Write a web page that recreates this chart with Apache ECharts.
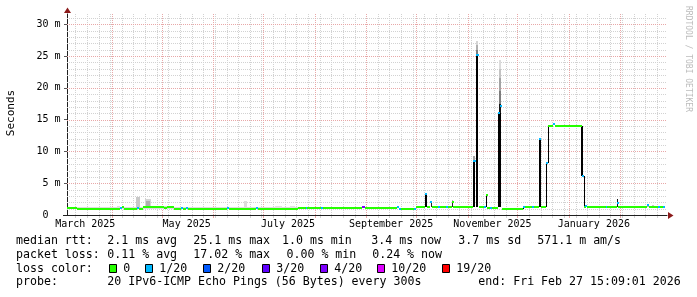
<!DOCTYPE html>
<html><head><meta charset="utf-8">
<script src="https://cdn.jsdelivr.net/npm/echarts@6.0.0/dist/echarts.min.js"></script>
<style>html,body{margin:0;padding:0;background:#fff}#c{width:697px;height:297px}</style>
</head><body><div id="c"></div>
<script>
// ---------------- data ----------------
// x values are days since 2025-03-01 (UTC)
const DAY0 = '2025-03-01';
const axisStart = '2025-03-05';
const axisEnd = '2026-03-01';
const dataEndDay = 363.63; // Fri Feb 27 15:09 2026

const monthStarts = ['2025-04-01','2025-05-01','2025-06-01','2025-07-01','2025-08-01','2025-09-01',
  '2025-10-01','2025-11-01','2025-12-01','2026-01-01','2026-02-01'];
const firstMonday = '2025-03-10';
const monthLabelDates = ['2025-03-16','2025-05-16','2025-07-16','2025-09-16','2025-11-16','2026-01-16'];
const monthLabels = ['March 2025','May 2025','July 2025','September 2025','November 2025','January 2026'];

const yMaxMs = 31.62;
const yLabelValues = [0, 5, 10, 15, 20, 25, 30];
const yLabelTexts = ['0  ', '5 m', '10 m', '15 m', '20 m', '25 m', '30 m'];

// median rtt (ms): step function, each value holds from its day to the next day
const medDay = [4.0,10.0,35.6,36.8,38.3,46.1,47.3,49.7,62.4,64.2,68.3,72.6,73.8,75.6,76.8,100.3,101.5,117.7,118.9,
  143.0,147.5,148.7,156.8,158.0,181.5,183.0,202.6,203.8,205.0,212.5,213.7,219.4,220.6,222.7,223.9,227.2,228.4,
  232.0,233.5,235.6,236.5,248.3,250.1,251.6,254.8,255.9,256.9,258.4,259.6,263.6,264.6,265.7,278.6,279.8,283.8,
  285.0,287.7,289.0,292.4,293.6,296.7,297.9,313.7,315.1,315.7,316.9,328.0,329.2,334.7,335.8,352.7,353.9,359.6,
  360.8,362.6];
const medMs = [1.1,1.02,1.05,1.2,1.02,1.05,1.02,1.25,1.1,1.25,1.02,1.1,1.02,1.05,1.02,1.1,1.02,1.05,1.02,
  1.15,1.15,1.15,1.15,1.15,1.2,1.15,1.2,0.95,0.95,0.95,1.3,3.3,1.3,2.1,1.3,1.3,1.3,
  1.3,1.3,2.0,1.2,8.5,25.1,1.2,1.2,3.2,1.15,1.15,1.15,16.0,17.1,0.95,1.2,1.2,1.2,
  1.2,12.0,1.2,8.2,14.0,14.3,14.0,6.1,1.2,1.4,1.25,1.25,1.25,1.85,1.2,1.6,1.2,1.2,
  1.2,1.2];
// loss class index into lossLabels
const medLoss = [0,0,1,0,0,1,0,0,0,0,0,1,0,1,0,1,0,1,0,
  0,1,0,1,0,4,0,1,1,0,1,0,1,0,1,0,1,0,
  1,0,0,0,1,1,0,1,0,0,1,0,1,1,0,1,0,1,
  0,1,0,1,0,1,0,1,0,1,0,1,0,1,0,1,0,1,
  0,1];

// smoke (spread of the 20 pings): from day, to day, low ms, high ms, density 0..1
const smokeFrom = [4.0,33.8,45.8,50.9,51.8,59.4,110.5,129.1,138.2,219.5,222.8,235.6,235.6,248.5,248.5,
  250.2,250.2,250.2,250.2,255.9,263.6,264.2,264.2,264.2,264.2,264.2,278.1,287.8,292.4,293.4,313.4,315.1,
  334.7,352.7,355.7];
const smokeTo = [143.0,35.6,48.2,54.5,53.9,68.4,112.0,133.4,141.2,220.5,223.6,236.5,236.5,249.7,249.7,
  251.4,251.4,251.4,251.4,256.9,265.4,265.4,265.4,265.4,265.4,265.4,278.7,289.0,293.1,294.1,314.2,315.7,
  335.8,353.9,356.9];
const smokeLo = [1.0,1.1,1.1,1.2,1.4,1.1,1.1,1.1,1.1,1.2,1.2,1.2,2.1,1.2,8.6,
  1.2,25.2,26.0,26.7,1.2,1.2,16.0,17.5,19.5,21.5,23.0,0.95,1.2,1.2,8.2,6.1,1.2,
  1.2,1.2,1.2];
const smokeHi = [1.3,1.4,2.9,2.5,2.2,1.45,2.2,1.4,1.45,3.4,2.2,2.1,2.4,8.6,9.3,
  25.2,26.0,26.7,27.3,3.3,16.0,17.5,19.5,21.5,23.0,24.4,1.25,12.1,8.2,14.0,14.0,6.1,
  2.5,1.7,1.6];
const smokeDensity = [0.12,0.12,0.2,0.15,0.3,0.15,0.12,0.1,0.1,1.0,0.85,0.85,0.3,1.0,0.35,
  1.0,0.5,0.3,0.15,1.0,1.0,0.9,0.5,0.35,0.22,0.12,1.0,1.0,1.0,1.0,1.0,1.0,
  0.9,0.3,0.2];

const lossLabels = ['0','1/20','2/20','3/20','4/20','10/20','19/20'];

const rttTitle = 'median rtt:';
const rttStats = ['2.1 ms avg','25.1 ms max','1.0 ms min','3.4 ms now','3.7 ms sd','571.1 m am/s'];
const lossTitle = 'packet loss:';
const lossStats = ['0.11 % avg','17.02 % max','0.00 % min','0.24 % now'];
const colorTitle = 'loss color:';
const probeTitle = 'probe:';
const probeText = '20 IPv6-ICMP Echo Pings (56 Bytes) every 300s';
const endText = 'end: Fri Feb 27 15:09:01 2026';
const yTitle = 'Seconds';
const watermark = 'RRDTOOL / TOBI OETIKER';

// ---------------- styles / layout ----------------
const lossColors = ['#26ff00','#00b8ff','#0059ff','#5e00ff','#7e00ff','#dd00ff','#ff0000'];
const MONO = '"DejaVu Sans Mono", monospace';
const minorGridColor = '#d2d2d2';
const majorGridColor = '#e8a8a8';
const rttX = [107.3,193.3,282.0,371.3,458.3,537.3];
const lossX = [107.3,193.3,286.5,372.2];
const boxX = [109,145,203,262,320,377,442];
const lineY = [240.8,254.9,268.6,282.4];

// ---------------- build ----------------
const T0 = Date.UTC(2025,2,1);
function dayOf(s){ const p = s.split('-').map(Number); return (Date.UTC(p[0],p[1]-1,p[2]) - T0)/86400000; }
const xMin = dayOf(axisStart), xMax = dayOf(axisEnd);
const monthDays = monthStarts.map(dayOf);
const weekDays = [];
for (let d = dayOf(firstMonday); d < xMax; d += 7) weekDays.push(d);
const labelDays = monthLabelDates.map(dayOf);
const labelMap = {}; labelDays.forEach((d,i)=>{ labelMap[d] = monthLabels[i]; });
const yMinor = []; for (let v = 1; v <= Math.floor(yMaxMs); v++) if (v % 5) yMinor.push(v);
const yMajor = yLabelValues.filter(v => v > 0);
const yLabMap = {}; yLabelValues.forEach((v,i)=>{ yLabMap[v] = yLabelTexts[i]; });

const medData = medDay.map((d,i)=>[d, i+1 < medDay.length ? medDay[i+1] : dataEndDay, medMs[i], medLoss[i]]);
const smokeData = smokeFrom.map((d,i)=>[d, smokeTo[i], smokeLo[i], smokeHi[i], smokeDensity[i]]);

function vGrid(color, tick){
  return function(params, api){
    const cs = params.coordSys;
    const x = Math.round(api.coord([api.value(0), 0])[0]) + 0.5;
    const yb = cs.y + cs.height;
    return {type:'group', children:[
      {type:'line', shape:{x1:x,y1:cs.y,x2:x,y2:yb}, style:{stroke:color,lineWidth:1,lineDash:[1,1]}},
      {type:'line', shape:{x1:x,y1:yb+1,x2:x,y2:yb+1+tick}, style:{stroke:color,lineWidth:1}}
    ]};
  };
}
function hGrid(color){
  return function(params, api){
    const cs = params.coordSys;
    const y = Math.round(api.coord([xMin, api.value(1)])[1]) + 0.5;
    return {type:'line', shape:{x1:cs.x,y1:y,x2:cs.x+cs.width,y2:y}, style:{stroke:color,lineWidth:1,lineDash:[1,1]}};
  };
}
function smokeItem(params, api){
  const a = api.coord([api.value(0), api.value(3)]);
  const b = api.coord([api.value(1), api.value(2)]);
  const x0 = Math.round(a[0]); let x1 = Math.round(b[0]); if (x1 <= x0) x1 = x0 + 1;
  const y0 = Math.round(a[1]); let y1 = Math.round(b[1]); if (y1 <= y0) y1 = y0 + 1;
  const g = Math.round(250 * (1 - api.value(4)));
  return {type:'rect', shape:{x:x0,y:y0,width:x1-x0,height:y1-y0}, style:{fill:'rgb('+g+','+g+','+g+')'}};
}
function medItem(params, api){
  const a = api.coord([api.value(0), api.value(2)]);
  const b = api.coord([api.value(1), api.value(2)]);
  const x0 = Math.round(a[0]); let x1 = Math.round(b[0]); if (x1 - x0 < 2) x1 = x0 + 2;
  const y = Math.round(a[1]);
  return {type:'rect', shape:{x:x0,y:y-1,width:x1-x0,height:2}, style:{fill:lossColors[api.value(3)]}};
}

const chart = echarts.init(document.getElementById('c'), null, {renderer:'canvas', width:697, height:297, devicePixelRatio:1});
const option = {
  animation:false,
  backgroundColor:'#ffffff',
  grid:{left:67, right:30, top:14, bottom:82, containLabel:false, outerBoundsMode:'none'},
  xAxis:{type:'value', min:xMin, max:xMax,
    axisLine:{show:true, lineStyle:{color:'#202020', width:1}},
    axisTick:{show:false}, splitLine:{show:false},
    axisLabel:{customValues:labelDays, formatter:v=>labelMap[v]||'', fontFamily:MONO, fontSize:10, lineHeight:10, color:'#000', margin:4}},
  yAxis:{type:'value', min:0, max:yMaxMs,
    axisLine:{show:true, lineStyle:{color:'#202020', width:1}},
    axisTick:{show:true, customValues:yLabelValues, length:3, lineStyle:{color:'#555'}},
    splitLine:{show:false},
    axisLabel:{customValues:yLabelValues, formatter:v=>yLabMap[v]!==undefined?yLabMap[v]:'', fontFamily:MONO, fontSize:10, color:'#000', margin:6.5}},
  series:[
    {type:'custom', silent:true, z:1, renderItem:hGrid(minorGridColor), data:yMinor.map(v=>[xMin,v])},
    {type:'custom', silent:true, z:1, renderItem:vGrid(minorGridColor,2), data:weekDays.map(d=>[d,0])},
    {type:'custom', silent:true, z:1, renderItem:hGrid(majorGridColor), data:yMajor.map(v=>[xMin,v])},
    {type:'custom', silent:true, z:1, renderItem:vGrid(majorGridColor,2), data:monthDays.map(d=>[d,0])},
    {type:'custom', silent:true, z:2, clip:true, renderItem:smokeItem, data:smokeData},
    {type:'custom', silent:true, z:3, clip:true, renderItem:medItem, data:medData}
  ]
};
chart.setOption(option);

// texts and decorations
function txt(text, x, y, size, extra){
  const el = {type:'text', x:x, y:y, silent:true, z:10,
    style:{text:text, fill:'#000', font:size+'px '+MONO, textAlign:'left', align:'left', textVerticalAlign:'middle', verticalAlign:'middle'}};
  if (extra) { Object.assign(el, extra.el||{}); Object.assign(el.style, extra.style||{}); }
  return el;
}
const LF = 11.6;
const g = [];
g.push(txt(rttTitle, 16, lineY[0], LF));
rttStats.forEach((s,i)=>g.push(txt(s, rttX[i], lineY[0], LF)));
g.push(txt(lossTitle, 16, lineY[1], LF));
lossStats.forEach((s,i)=>g.push(txt(s, lossX[i], lineY[1], LF)));
g.push(txt(colorTitle, 16, lineY[2], LF));
lossLabels.forEach((s,i)=>{
  g.push({type:'rect', silent:true, z:10, x:boxX[i]+0.5, y:264.5, shape:{x:0,y:0,width:7,height:8}, style:{fill:lossColors[i], stroke:'#000', lineWidth:1}});
  g.push(txt(s, boxX[i]+14.3, lineY[2], LF));
});
g.push(txt(probeTitle, 16, lineY[3], LF));
g.push(txt(probeText, 107.3, lineY[3], LF));
g.push(txt(endText, 478.3, lineY[3], LF));
g.push(txt(yTitle, 11, 113, 11, {el:{rotation:Math.PI/2}, style:{textAlign:'center', align:'center'}}));
g.push(txt(watermark, 688, 59, 8, {el:{rotation:-Math.PI/2}, style:{textAlign:'center', align:'center', fill:'#bcbcbc'}}));

const pr = chart.convertToPixel({gridIndex:0}, [xMax, 0]);
const pt = chart.convertToPixel({gridIndex:0}, [xMin, yMaxMs]);
const ax = Math.round(pr[0]), ay = Math.round(pr[1]);
const tx = Math.round(pt[0]), ty = Math.round(pt[1]);
g.push({type:'polygon', silent:true, z:10, shape:{points:[[ax+1,ay-3],[ax+6.5,ay+0.5],[ax+1,ay+4]]}, style:{fill:'#8b1a1a'}});
g.push({type:'polygon', silent:true, z:10, shape:{points:[[tx-3,ty-1],[tx+0.5,ty-6.5],[tx+4,ty-1]]}, style:{fill:'#8b1a1a'}});
g.push({type:'line', silent:true, z:10, shape:{x1:ax-604,y1:ay+0.5,x2:ax-600,y2:ay+0.5}, style:{stroke:'#202020',lineWidth:1}});
chart.setOption({graphic:g});
</script>
</body></html>
